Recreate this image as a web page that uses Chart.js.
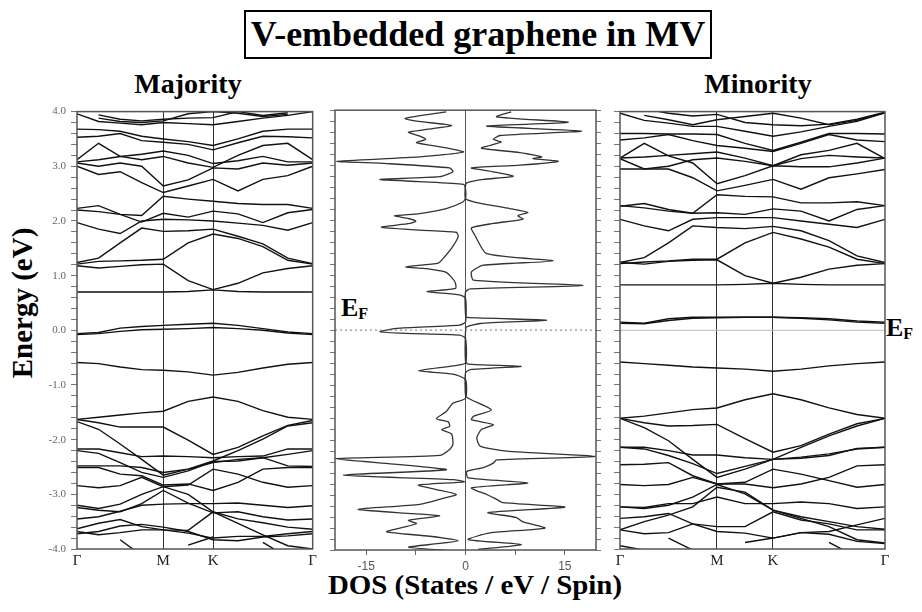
<!DOCTYPE html>
<html>
<head>
<meta charset="utf-8">
<script src="https://cdn.jsdelivr.net/npm/chart.js@4.4.0/dist/chart.umd.min.js"></script>
<style>
body{margin:0;background:#fff;width:922px;height:612px;position:relative;overflow:hidden;font-family:"Liberation Serif",serif;}
.box{position:absolute;}
.t{position:absolute;font-weight:bold;color:#000;white-space:nowrap;line-height:1;}
#title{position:absolute;left:244px;top:10px;width:468px;height:49px;box-sizing:border-box;border:2.5px solid #000;
  font-weight:bold;font-size:36px;line-height:44px;text-align:center;white-space:nowrap;}
</style>
</head>
<body>
<div id="title">V-embedded graphene in MV</div>
<div class="t" style="left:188px;top:70px;font-size:28px;transform:translateX(-50%)">Majority</div>
<div class="t" style="left:758px;top:70px;font-size:28px;transform:translateX(-50%)">Minority</div>
<div class="t" style="left:22px;top:303px;font-size:29px;line-height:29px;transform:translate(-50%,-50%) rotate(-90deg)">Energy (eV)</div>
<div class="t" style="left:475px;top:572px;font-size:27px;transform:translateX(-50%) scaleX(1.07)">DOS (States / eV / Spin)</div>
<div class="t" style="left:341px;top:295px;font-size:26px">E<span style="font-size:16px;position:relative;top:3px">F</span></div>
<div class="t" style="left:886px;top:315px;font-size:26px">E<span style="font-size:16px;position:relative;top:3px">F</span></div>

<div class="box" style="left:20px;top:100px"><canvas id="maj" width="300" height="480"></canvas></div>
<div class="box" style="left:320px;top:100px"><canvas id="dos" width="290" height="480"></canvas></div>
<div class="box" style="left:600px;top:100px"><canvas id="min" width="300" height="480"></canvas></div>

<script>
// k-path Γ-M-K-Γ (hexagonal BZ lengths), 11 sampled points
var kPath = [0, 0.433, 0.866, 1.299, 1.732, 2.232, 2.732, 3.232, 3.732, 4.232, 4.732];
var kTickPos = [0, 1.732, 2.732, 4.732];
var kTickLabels = ['Γ', 'M', 'K', 'Γ'];
var energyMin = -4, energyMax = 4;
var fermiLevel = 0;

// majority spin bands (eV) at each kPath point
var majorityBands = [
  [null, 3.94, 3.86, 3.83, 3.86, 3.88, 3.89, 4.0, 3.93, 3.98, null],
  [null, 3.88, 3.82, 3.80, 3.83, 3.96, 4.0, 3.97, 3.91, 3.95, null],
  [3.96, 3.82, 3.79, 3.76, 3.80, 3.78, 3.76, 3.82, 3.88, 3.93, 4.0],
  [3.68, 3.67, 3.64, 3.55, 3.50, 3.45, 3.38, 3.50, 3.64, 3.68, 3.68],
  [3.53, 3.55, 3.60, 3.47, 3.44, 3.40, 3.30, 3.43, 3.55, 3.54, 3.52],
  [3.12, 3.42, 3.18, 3.12, 3.18, 3.06, 2.98, 3.20, 3.38, 3.42, 3.12],
  [3.08, 3.12, 3.18, 3.22, 3.28, 3.20, 3.05, 3.10, 3.18, 3.08, 3.08],
  [3.00, 2.85, 2.90, 2.70, 2.52, 2.64, 2.76, 2.55, 2.76, 2.83, 3.00],
  [3.06, 3.00, 3.06, 3.00, 2.64, 2.75, 2.97, 2.95, 3.06, 3.02, 3.06],
  [2.23, 2.28, 2.12, 2.10, 2.45, 2.40, 2.36, 2.32, 2.30, 2.30, 2.23],
  [2.20, 2.17, 2.12, 1.98, 2.14, 2.07, 2.18, 2.13, 1.97, 2.15, 2.21],
  [1.97, 1.85, 1.77, 2.00, 2.03, 2.02, 2.00, 1.96, 1.92, 1.83, 1.97],
  [1.24, 1.32, 1.60, 1.87, 1.81, 1.82, 1.85, 1.72, 1.58, 1.32, 1.22],
  [1.21, 1.26, 1.27, 1.28, 1.30, 1.60, 1.76, 1.68, 1.53, 1.28, 1.21],
  [1.18, 1.14, 1.17, 1.20, 1.21, 0.91, 0.745, 0.86, 1.05, 1.13, 1.18],
  [0.70, 0.70, 0.70, 0.70, 0.70, 0.71, 0.74, 0.71, 0.70, 0.70, 0.70],
  [-0.06, -0.04, 0.04, 0.07, 0.09, 0.11, 0.13, 0.09, 0.03, -0.03, -0.06],
  [-0.08, -0.06, -0.02, 0.01, 0.02, 0.03, 0.05, 0.03, 0.00, -0.05, -0.08],
  [-0.59, -0.61, -0.67, -0.72, -0.73, -0.76, -0.82, -0.77, -0.69, -0.62, -0.59],
  [-1.63, -1.59, -1.55, -1.51, -1.48, -1.30, -1.22, -1.30, -1.47, -1.59, -1.63],
  [-1.63, -1.69, -1.77, -1.77, -1.77, -2.01, -2.27, -2.14, -1.93, -1.74, -1.65],
  [-1.67, -1.81, -2.08, -2.36, -2.65, -2.54, -2.39, -2.20, -1.99, -1.75, -1.69],
  [-2.17, -2.17, -2.24, -2.31, -2.30, -2.31, -2.33, -2.31, -2.30, -2.17, -2.17],
  [-2.20, -2.25, -2.42, -2.60, -2.69, -2.57, -2.40, -2.39, -2.33, -2.27, -2.20],
  [-2.48, -2.48, -2.48, -2.51, -2.60, -2.54, -2.42, -2.36, -2.33, -2.48, -2.49],
  [-2.51, -2.51, -2.63, -2.66, -2.83, -2.81, -2.93, -2.78, -2.54, -2.51, -2.51],
  [-2.84, -2.88, -2.84, -2.69, -2.86, -2.83, -2.54, -2.63, -2.78, -2.87, -2.84],
  [-3.20, -3.26, -3.18, -3.00, -2.86, -3.00, -3.32, -3.53, -3.74, -3.94, -4.00],
  [-3.24, -3.29, -3.32, -3.17, -2.93, -3.16, -3.34, -3.32, -3.41, -3.47, -3.45],
  [-3.45, -3.41, -3.31, -3.20, -3.18, -3.17, -3.17, -3.16, -3.20, -3.24, -3.21],
  [-3.63, -3.53, -3.46, -3.59, -3.65, -3.66, -3.32, -3.45, -3.52, -3.60, -3.64],
  [-3.68, -3.74, -3.70, -3.65, -3.65, -3.71, -3.80, -3.77, -3.77, -3.72, -3.68],
  [-3.72, -3.68, -3.58, -3.55, -3.60, -3.68, -3.83, -3.85, -3.78, -3.76, -3.72],
  [null, null, -3.83, -4.12, null, null, null, null, null, null, null],
  [null, null, null, null, null, -3.93, -3.78, null, null, null, null],
  [null, null, null, null, null, null, null, null, -3.88, -4.15, null]
];

// minority spin bands (eV)
var minorityBands = [
  [4.10, 4.05, 3.97, 3.92, 3.95, 3.80, 3.76, 3.74, 3.77, 3.86, 3.99],
  [null, 3.93, 3.85, 3.76, 3.85, 3.91, 3.97, 3.88, 3.76, 3.84, 3.98],
  [3.97, 3.84, 3.79, 3.73, 3.73, 3.64, 3.55, 3.63, 3.73, 3.82, 3.98],
  [3.60, 3.60, 3.59, 3.59, 3.58, 3.42, 3.29, 3.44, 3.60, 3.60, 3.59],
  [3.48, 3.52, 3.58, 3.47, 3.38, 3.33, 3.27, 3.42, 3.58, 3.48, 3.45],
  [3.15, 3.17, 3.20, 3.23, 3.26, 3.15, 3.01, 3.14, 3.20, 3.17, 3.15],
  [3.14, 2.95, 3.00, 3.12, 3.15, 3.09, 3.01, 3.21, 3.29, 3.42, 3.14],
  [3.15, 3.42, 3.19, 3.06, 2.68, 2.83, 3.01, 2.99, 2.99, 3.06, 3.15],
  [2.95, 2.95, 2.95, 2.79, 2.55, 2.65, 2.76, 2.58, 2.79, 2.86, 2.94],
  [2.28, 2.24, 2.18, 2.14, 2.15, 2.12, 2.22, 2.18, 2.00, 2.21, 2.28],
  [2.27, 2.32, 2.21, 2.14, 2.48, 2.45, 2.44, 2.33, 2.33, 2.35, 2.28],
  [2.03, 1.91, 1.82, 2.03, 2.06, 2.06, 2.06, 2.00, 1.94, 1.88, 2.03],
  [1.24, 1.33, 1.60, 1.91, 1.88, 1.86, 1.90, 1.82, 1.64, 1.36, 1.24],
  [1.22, 1.25, 1.27, 1.30, 1.30, 1.60, 1.79, 1.67, 1.52, 1.30, 1.22],
  [1.24, 1.21, 1.26, 1.28, 1.29, 1.00, 0.86, 0.97, 1.12, 1.19, 1.22],
  [0.83, 0.83, 0.83, 0.83, 0.83, 0.84, 0.86, 0.84, 0.83, 0.83, 0.83],
  [0.15, 0.13, 0.21, 0.24, 0.24, 0.24, 0.24, 0.23, 0.21, 0.17, 0.15],
  [0.13, 0.12, 0.18, 0.22, 0.23, 0.24, 0.24, 0.22, 0.19, 0.15, 0.13],
  [-0.58, -0.61, -0.64, -0.67, -0.69, -0.71, -0.75, -0.71, -0.65, -0.61, -0.58],
  [-1.61, -1.57, -1.51, -1.45, -1.42, -1.27, -1.16, -1.27, -1.42, -1.54, -1.61],
  [-1.61, -1.69, -1.75, -1.74, -1.72, -1.98, -2.23, -2.11, -1.90, -1.71, -1.61],
  [-1.61, -1.78, -2.02, -2.36, -2.69, -2.54, -2.36, -2.14, -1.93, -1.75, -1.61],
  [-2.14, -2.14, -2.20, -2.28, -2.28, -2.33, -2.36, -2.34, -2.29, -2.16, -2.14],
  [-2.14, -2.17, -2.29, -2.44, -2.62, -2.49, -2.36, -2.32, -2.26, -2.17, -2.14],
  [-2.46, -2.45, -2.42, -2.66, -2.81, -2.81, -2.88, -2.81, -2.69, -2.48, -2.46],
  [-2.82, -2.84, -2.82, -2.69, -2.81, -2.78, -2.54, -2.63, -2.75, -2.87, -2.82],
  [-3.23, -3.26, -3.20, -3.05, -2.82, -2.99, -3.29, -3.44, -3.59, -3.83, -3.89],
  [-3.23, -3.24, -3.17, -3.17, -3.05, -3.17, -3.17, -3.14, -3.17, -3.26, -3.23],
  [-3.65, -3.50, -3.38, -3.23, -2.87, -2.96, -3.29, -3.41, -3.50, -3.59, -3.64],
  [-3.44, -3.41, -3.35, -3.54, -3.68, -3.71, -3.80, -3.70, -3.68, -3.56, -3.44],
  [-3.65, -3.72, -3.70, -3.54, -3.59, -3.59, -3.32, -3.47, -3.54, -3.65, -3.65],
  [null, null, -3.80, -4.02, null, null, null, null, null, null, null],
  [null, null, null, null, null, -3.88, -3.80, -3.70, -3.73, -3.86, -3.90],
  [null, null, null, null, null, null, null, null, -3.88, -4.15, null],
  [-3.94, -4.02, null, null, null, null, null, null, null, null, null]
];

// DOS, majority (drawn to the left, negative) and minority (right)
var dosUpEnergy = [
  3.97, 3.85, 3.80, 3.72, 3.60, 3.53, 3.47, 3.41, 3.33, 3.24,
  3.15, 3.07, 3.03, 2.95, 2.88, 2.79, 2.74, 2.70, 2.65, 2.57,
  2.40, 2.33, 2.21, 2.12, 2.08, 2.03, 1.98, 1.94, 1.87, 1.82,
  1.78, 1.70, 1.49, 1.30, 1.22, 1.15, 1.11, 1.05, 0.88, 0.76,
  0.70, 0.64, 0.58, 0.15, 0.09, 0.03, -0.03, -0.06, -0.09, -0.15,
  -0.60, -0.65, -0.74, -0.80, -0.90, -1.24, -1.33, -1.48, -1.61, -1.67,
  -1.75, -1.81, -1.89, -2.08, -2.17, -2.28, -2.34, -2.45, -2.54, -2.64,
  -2.72, -2.76, -2.82, -2.90, -2.99, -3.06, -3.17, -3.26, -3.34, -3.38,
  -3.46, -3.52, -3.60, -3.67, -3.75, -3.83, -3.90, -3.95, -4.01
];
var dosUp = [
  -2.9, -9.1, -7.4, -2.1, -8.6, -6.9, -6.0, -7.4, -3.6, -0.3,
  -6.9, -19.4, -11.9, -2.4, -1.9, -3.9, -12.9, -6.9, -0.3, 0,
  0, -0.4, -2.9, -6.9, -10.7, -8.6, -7.5, -8.4, -12.7, -6.9,
  -1.4, -1.1, -2.1, -3.4, -4.1, -9.0, -5.4, -2.9, -1.6, -1.5,
  -5.8, -0.9, 0, 0, -0.9, -10.4, -12.9, -9.0, -0.9, 0,
  0, -1.9, -7.1, -1.9, 0, 0, -1.9, -2.9, -4.4, -2.6,
  -2.4, -3.6, -2.1, -1.9, -2.4, -3.9, -19.7, -9.4, -2.9, -18.4,
  -1.9, -0.2, -7.1, -4.4, -1.4, -3.4, -6.9, -16.2, -7.9, -3.9,
  -8.6, -7.4, -9.9, -11.9, -5.4, -1.1, -5.4, -8.6, -2.9
];
var dosDnEnergy = [
  3.97, 3.88, 3.78, 3.71, 3.62, 3.54, 3.47, 3.42, 3.31, 3.23,
  3.15, 3.12, 3.07, 3.00, 2.95, 2.88, 2.80, 2.74, 2.68, 2.63,
  2.39, 2.32, 2.21, 2.14, 2.08, 2.02, 1.94, 1.86, 1.73, 1.39,
  1.26, 1.18, 1.06, 0.91, 0.81, 0.75, 0.69, 0.28, 0.23, 0.18,
  0.12, 0.06, -0.03, -0.57, -0.62, -0.66, -0.72, -0.78, -1.18, -1.24,
  -1.45, -1.57, -1.63, -1.72, -1.81, -1.96, -2.11, -2.20, -2.30, -2.36,
  -2.42, -2.50, -2.57, -2.69, -2.78, -2.87, -2.99, -3.08, -3.14, -3.22,
  -3.32, -3.41, -3.49, -3.60, -3.69, -3.81, -3.90, -3.99
];
var dosDn = [
  6.9, 4.7, 15.5, 3.2, 17.5, 5.2, 4.2, 5.4, 2.4, 8.2,
  11.5, 10.2, 14.0, 8.2, 0.9, 4.2, 7.2, 2.7, 0.2, 0,
  0, 1.7, 6.7, 9.4, 7.9, 8.7, 4.2, 0.9, 1.4, 3.2,
  13.2, 2.7, 0.9, 1.2, 17.7, 0.7, 0, 0, 0.2, 12.2,
  2.2, 0.2, 0, 0, 0.4, 8.4, 0.7, 0, 0, 0.4,
  3.9, 1.2, 0.9, 4.2, 2.4, 1.7, 2.2, 6.2, 19.5, 4.7,
  4.2, 2.7, 0.2, 0.4, 9.4, 0.9, 3.2, 4.7, 5.7, 15.0,
  3.4, 7.7, 8.7, 12.0, 3.7, 0.4, 8.4, 1.9
];
var dosMin = -19.7, dosMax = 19.7;
var dosTicks = [-15, -7.5, 0, 7.5, 15];

var framePlugin = {
  id: 'frame',
  afterDatasetsDraw: function(chart) {
    var a = chart.chartArea, c = chart.ctx;
    c.save();
    c.strokeStyle = '#555';
    c.lineWidth = 1.5;
    c.strokeRect(a.left, a.top, a.right - a.left, a.bottom - a.top);
    c.restore();
  }
};

function energyLabel(v) {
  var r = Math.round(v);
  return Math.abs(v - r) < 1e-6 ? r.toFixed(1) : '';
}

function bandSets(bands) {
  return bands.map(function(b) {
    return {
      data: kPath.map(function(k, i) { return {x: k, y: b[i]}; }),
      showLine: true, borderColor: '#111', borderWidth: 1.4,
      pointRadius: 0, tension: 0, spanGaps: false
    };
  });
}

function bandChart(id, bands, opts) {
  var sets = bandSets(bands);
  if (opts.fermiLine) {
    sets.unshift({
      data: [{x: kPath[0], y: fermiLevel}, {x: kPath[kPath.length - 1], y: fermiLevel}],
      showLine: true, borderColor: '#bbb', borderWidth: 1, pointRadius: 0
    });
  }
  return new Chart(document.getElementById(id), {
    type: 'scatter',
    data: {datasets: sets},
    options: {
      responsive: false, animation: false,
      layout: {padding: {top: opts.top, right: opts.right, left: 0, bottom: 0}},
      plugins: {legend: {display: false}, tooltip: {enabled: false}},
      scales: {
        x: {
          type: 'linear', min: kPath[0], max: kPath[kPath.length - 1],
          afterBuildTicks: function(s) { s.ticks = kTickPos.map(function(v) { return {value: v}; }); },
          afterFit: function(s) { s.height = 31; },
          ticks: {
            autoSkip: false, maxRotation: 0, padding: 3, color: '#222',
            font: {family: 'Liberation Serif', size: 15},
            callback: function(v, i) { return kTickLabels[i]; }
          },
          grid: {
            drawTicks: false, lineWidth: 1,
            color: function(ctx) { return (ctx.index === 1 || ctx.index === 2) ? '#333' : 'rgba(0,0,0,0)'; }
          },
          border: {display: false}
        },
        y: {
          min: energyMin, max: energyMax,
          afterFit: function(s) { s.width = opts.yWidth; },
          ticks: {
            stepSize: 0.2, autoSkip: false, padding: 5, color: '#666',
            font: {family: 'Liberation Serif', size: 11},
            callback: opts.yLabels ? energyLabel : function() { return ''; }
          },
          grid: {drawOnChartArea: false, tickLength: 6, tickColor: '#777', tickWidth: 1},
          border: {display: false}
        }
      }
    },
    plugins: [framePlugin]
  });
}

bandChart('maj', majorityBands, {top: 8, right: 7, yWidth: 57, yLabels: true});
bandChart('min', minorityBands, {top: 9, right: 15, yWidth: 20, yLabels: false, fermiLine: true});

function dosPoints(dos, en) {
  return dos.map(function(d, i) { return {x: d, y: en[i]}; });
}

var dosYAxis = function(pos, w) {
  return {
    position: pos, min: energyMin, max: energyMax,
    afterFit: function(s) { s.width = w; },
    ticks: {stepSize: 0.2, autoSkip: false, callback: function() { return ''; }},
    grid: {drawOnChartArea: false, tickLength: 5, tickColor: '#777'},
    border: {display: false}
  };
};

new Chart(document.getElementById('dos'), {
  type: 'scatter',
  data: {
    datasets: [
      {data: [{x: dosMin, y: fermiLevel}, {x: dosMax, y: fermiLevel}], showLine: true,
       borderColor: '#777', borderWidth: 1, borderDash: [2, 3], pointRadius: 0},
      {data: dosPoints(dosUp, dosUpEnergy), showLine: true, borderColor: '#333',
       borderWidth: 1.3, pointRadius: 0, tension: 0.2},
      {data: dosPoints(dosDn, dosDnEnergy), showLine: true, borderColor: '#333',
       borderWidth: 1.3, pointRadius: 0, tension: 0.2}
    ]
  },
  options: {
    responsive: false, animation: false,
    layout: {padding: {top: 9, right: 0, left: 0, bottom: 0}},
    plugins: {legend: {display: false}, tooltip: {enabled: false}},
    scales: {
      x: {
        type: 'linear', min: dosMin, max: dosMax,
        afterBuildTicks: function(s) { s.ticks = dosTicks.map(function(v) { return {value: v}; }); },
        afterFit: function(s) { s.height = 30; },
        ticks: {
          autoSkip: false, maxRotation: 0, padding: 4, color: '#555',
          font: {family: 'Liberation Sans', size: 12},
          callback: function(v) { return v % 15 === 0 ? String(v) : ''; }
        },
        grid: {
          tickLength: 5, tickColor: '#666', lineWidth: 1,
          color: function(ctx) { return ctx.tick && ctx.tick.value === 0 ? '#555' : 'rgba(0,0,0,0)'; }
        },
        border: {display: false}
      },
      y: dosYAxis('left', 15),
      y2: dosYAxis('right', 14)
    }
  },
  plugins: [framePlugin]
});
</script>
</body>
</html>
